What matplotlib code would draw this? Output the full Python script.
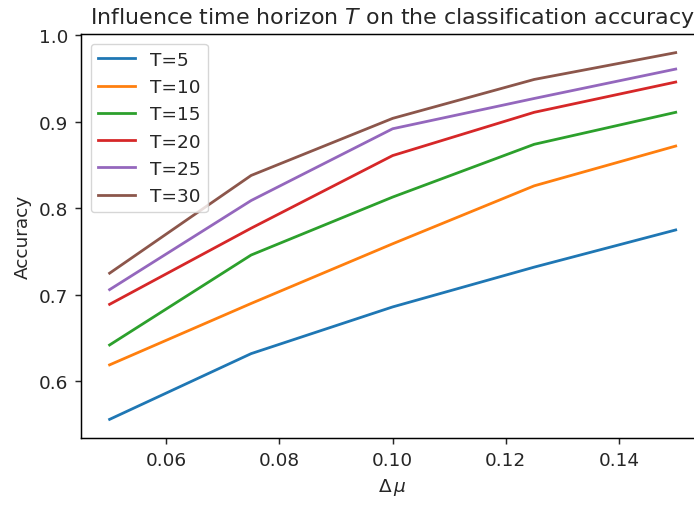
import matplotlib
matplotlib.use("Agg")
import matplotlib.pyplot as plt

delta_mu = [0.05, 0.075, 0.10, 0.125, 0.15]
labels = ["T=5", "T=10", "T=15", "T=20", "T=25", "T=30"]
acc_T5 = [0.556, 0.632, 0.686, 0.732, 0.775]
acc_T10 = [0.619, 0.690, 0.759, 0.826, 0.872]
acc_T15 = [0.642, 0.746, 0.813, 0.874, 0.911]
acc_T20 = [0.689, 0.777, 0.861, 0.911, 0.946]
acc_T25 = [0.706, 0.809, 0.892, 0.927, 0.961]
acc_T30 = [0.725, 0.838, 0.904, 0.949, 0.980]
series = [acc_T5, acc_T10, acc_T15, acc_T20, acc_T25, acc_T30]

s = 1.33
plt.rcParams.update({
    "font.size": 10 * s,
    "axes.linewidth": 0.8 * s,
    "xtick.major.width": 0.8 * s,
    "ytick.major.width": 0.8 * s,
    "xtick.major.size": 3.5 * s,
    "ytick.major.size": 3.5 * s,
    "xtick.major.pad": 3.5 * s,
    "ytick.major.pad": 3.5 * s,
    "lines.linewidth": 1.5 * s,
    "text.color": "#262626",
    "xtick.color": "#262626",
    "ytick.color": "#262626",
    "axes.labelcolor": "#262626",
})

W, H = 694, 506
fig = plt.figure(figsize=(W / 100, H / 100), dpi=100)
left, right, top, bottom = 81.3, 704.0, 35.3, 438.7
ax = fig.add_axes([left / W, 1 - bottom / H, (right - left) / W, (bottom - top) / H])

for lab, vals in zip(labels, series):
    ax.plot(delta_mu, vals, label=lab)

ax.set_title("Influence time horizon $T$ on the classification accuracy", fontsize=12 * s, pad=6 * s)
ax.set_xlabel(r"$\Delta\,\mu$", labelpad=4 * s)
ax.set_ylabel("Accuracy", labelpad=4 * s)
ax.set_xticks([0.06, 0.08, 0.10, 0.12, 0.14])
ax.set_yticks([0.6, 0.7, 0.8, 0.9, 1.0])
ax.legend(loc="upper left")

fig.savefig("out.png", dpi=100)
